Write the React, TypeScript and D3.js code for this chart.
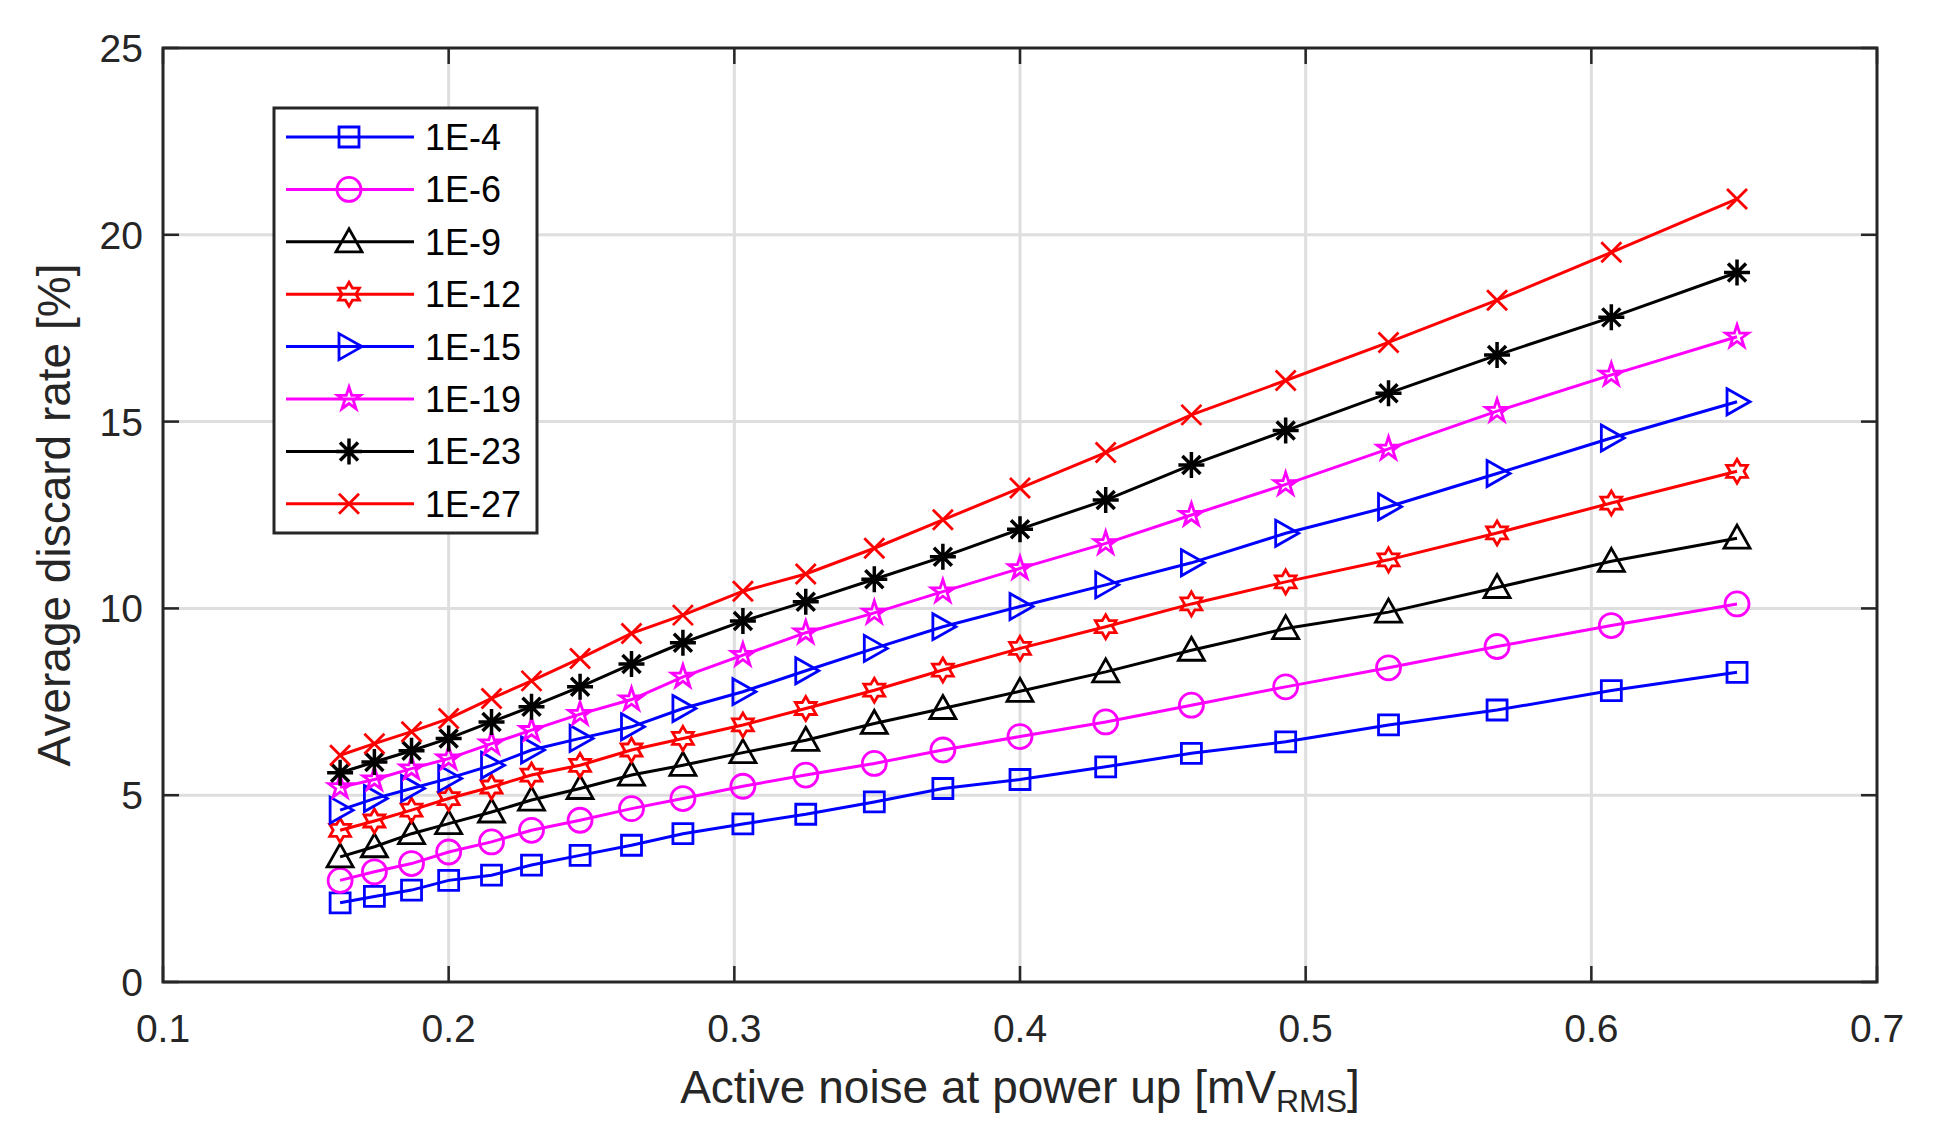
import React from 'react';
import * as d3 from 'd3';

// noise level at power up [mV RMS], same for every curve
const noiseX = [0.162, 0.174, 0.187, 0.200, 0.215, 0.229, 0.246, 0.264, 0.282, 0.303, 0.325, 0.349, 0.373, 0.400, 0.430, 0.460, 0.493, 0.529, 0.567, 0.607, 0.651];

// average discard rate [%] for each target error rate
const rate1E4 = [2.12, 2.29, 2.46, 2.72, 2.86, 3.13, 3.39, 3.66, 3.97, 4.23, 4.49, 4.82, 5.18, 5.42, 5.76, 6.12, 6.43, 6.88, 7.28, 7.80, 8.29];
const rate1E6 = [2.72, 2.95, 3.17, 3.48, 3.75, 4.06, 4.33, 4.64, 4.91, 5.24, 5.54, 5.85, 6.21, 6.57, 6.96, 7.41, 7.90, 8.41, 8.98, 9.54, 10.12];
const rate1E9 = [3.35, 3.62, 3.97, 4.24, 4.55, 4.87, 5.18, 5.54, 5.80, 6.14, 6.47, 6.92, 7.32, 7.78, 8.30, 8.88, 9.46, 9.90, 10.56, 11.26, 11.88];
const rate1E12 = [4.06, 4.31, 4.60, 4.91, 5.22, 5.54, 5.80, 6.21, 6.52, 6.88, 7.32, 7.81, 8.35, 8.93, 9.51, 10.12, 10.71, 11.30, 12.02, 12.82, 13.67];
const rate1E15 = [4.60, 4.91, 5.18, 5.45, 5.80, 6.21, 6.52, 6.83, 7.32, 7.77, 8.33, 8.93, 9.51, 10.05, 10.63, 11.22, 12.01, 12.72, 13.61, 14.56, 15.53];
const rate1E19 = [5.21, 5.42, 5.71, 5.98, 6.38, 6.74, 7.17, 7.56, 8.17, 8.75, 9.35, 9.88, 10.45, 11.07, 11.74, 12.50, 13.32, 14.27, 15.28, 16.25, 17.27];
const rate1E23 = [5.60, 5.89, 6.19, 6.52, 6.96, 7.37, 7.90, 8.51, 9.08, 9.66, 10.18, 10.78, 11.38, 12.12, 12.90, 13.84, 14.76, 15.76, 16.78, 17.79, 18.99];
const rate1E27 = [6.07, 6.38, 6.70, 7.05, 7.59, 8.06, 8.66, 9.33, 9.82, 10.46, 10.92, 11.61, 12.37, 13.22, 14.17, 15.18, 16.10, 17.12, 18.25, 19.53, 20.96];

const seriesNames = ['1E-4', '1E-6', '1E-9', '1E-12', '1E-15', '1E-19', '1E-23', '1E-27'];
const seriesValues = [rate1E4, rate1E6, rate1E9, rate1E12, rate1E15, rate1E19, rate1E23, rate1E27];
const seriesColors = ['#0000ff', '#ff00ff', '#000000', '#ff0000', '#0000ff', '#ff00ff', '#000000', '#ff0000'];
const seriesMarkers = ['square', 'circle', 'triUp', 'hexagram', 'triRight', 'pentagram', 'asterisk', 'cross'];

const xTicks = [0.1, 0.2, 0.3, 0.4, 0.5, 0.6, 0.7];
const yTicks = [0, 5, 10, 15, 20, 25];

const W = 1960, H = 1122;
const left = 163, right = 1877, top = 48, bottom = 982;
const font = '"Liberation Sans", Arial, Helvetica, sans-serif';
const axisColor = '#262626';

// star outline helper (hexagram / pentagram)
function starPath(points, outer, inner) {
    const pts = [];
    for (let i = 0; i < points * 2; i++) {
        const r = i % 2 === 0 ? outer : inner;
        const a = -Math.PI / 2 + (i * Math.PI) / points;
        pts.push([r * Math.cos(a), r * Math.sin(a)]);
    }
    return 'M' + pts.map(p => p[0].toFixed(2) + ',' + p[1].toFixed(2)).join('L') + 'Z';
}

function markerPath(kind) {
    switch (kind) {
        case 'square': return 'M-10,-10H10V10H-10Z';
        case 'circle': return 'M12,0A12,12 0 1,1 -12,0A12,12 0 1,1 12,0Z';
        case 'triUp': return 'M0,-13L13,10L-13,10Z';
        case 'triRight': return 'M-10,-13L13,0L-10,13Z';
        case 'hexagram': return starPath(6, 12, 12 / Math.sqrt(3));
        case 'pentagram': return starPath(5, 12, 12 * 0.382);
        case 'asterisk': return 'M0,-13V13M-13,0H13M-9,-9L9,9M-9,9L9,-9';
        case 'cross': return 'M-10,-10L10,10M-10,10L10,-10';
        default: return '';
    }
}

const Marker = ({ kind, color, x, y }) => (
    <path d={markerPath(kind)} transform={`translate(${x},${y})`} fill="none" stroke={color}
        strokeWidth={kind === 'asterisk' ? 3.5 : 2.8} strokeLinejoin="miter" />
);

export default function App() {
    const x = d3.scaleLinear().domain([0.1, 0.7]).range([left, right]);
    const y = d3.scaleLinear().domain([0, 25]).range([bottom, top]);
    const line = d3.line().x(d => x(d[0])).y(d => y(d[1]));

    const legendX = 274, legendY = 108, legendW = 263, legendH = 425;
    const rowStep = 52.4;

    return (
        <svg width={W} height={H} style={{ position: 'absolute', left: 0, top: 0, display: 'block', background: '#fff' }}
            fontFamily={font}>
            <rect x={0} y={0} width={W} height={H} fill="#fff" />

            {/* grid */}
            {xTicks.slice(1, -1).map(t => (
                <line key={'gx' + t} x1={x(t)} x2={x(t)} y1={top} y2={bottom} stroke="#dedede" strokeWidth={3} />
            ))}
            {yTicks.slice(1, -1).map(t => (
                <line key={'gy' + t} x1={left} x2={right} y1={y(t)} y2={y(t)} stroke="#dedede" strokeWidth={3} />
            ))}

            {/* curves */}
            {seriesValues.map((vals, i) => (
                <g key={seriesNames[i]}>
                    <path d={line(noiseX.map((v, j) => [v, vals[j]]))} fill="none" stroke={seriesColors[i]} strokeWidth={3} />
                    {noiseX.map((v, j) => (
                        <Marker key={j} kind={seriesMarkers[i]} color={seriesColors[i]} x={x(v)} y={y(vals[j])} />
                    ))}
                </g>
            ))}

            {/* box + ticks */}
            <rect x={left} y={top} width={right - left} height={bottom - top} fill="none" stroke={axisColor} strokeWidth={3} />
            {xTicks.map(t => (
                <g key={'tx' + t}>
                    <line x1={x(t)} x2={x(t)} y1={bottom} y2={bottom - 16} stroke={axisColor} strokeWidth={2.5} />
                    <line x1={x(t)} x2={x(t)} y1={top} y2={top + 16} stroke={axisColor} strokeWidth={2.5} />
                    <text x={x(t)} y={1042} textAnchor="middle" fontSize={39} fill={axisColor}>{t}</text>
                </g>
            ))}
            {yTicks.map(t => (
                <g key={'ty' + t}>
                    <line x1={left} x2={left + 16} y1={y(t)} y2={y(t)} stroke={axisColor} strokeWidth={2.5} />
                    <line x1={right} x2={right - 16} y1={y(t)} y2={y(t)} stroke={axisColor} strokeWidth={2.5} />
                    <text x={143} y={y(t) + 14} textAnchor="end" fontSize={39} fill={axisColor}>{t}</text>
                </g>
            ))}

            {/* axis titles */}
            <text x={(left + right) / 2} y={1103} textAnchor="middle" fontSize={46} fill={axisColor}>
                Active noise at power up [mV
                <tspan fontSize={32} dy={9}>RMS</tspan>
                <tspan dy={-9}>]</tspan>
            </text>
            <text transform={`translate(70,${(top + bottom) / 2}) rotate(-90)`} textAnchor="middle" fontSize={46} fill={axisColor}>
                Average discard rate [%]
            </text>

            {/* legend */}
            <rect x={legendX} y={legendY} width={legendW} height={legendH} fill="#fff" stroke={axisColor} strokeWidth={3} />
            {seriesNames.map((name, i) => {
                const ry = legendY + 29 + i * rowStep;
                return (
                    <g key={'lg' + name}>
                        <line x1={286} x2={414} y1={ry} y2={ry} stroke={seriesColors[i]} strokeWidth={3} />
                        <Marker kind={seriesMarkers[i]} color={seriesColors[i]} x={349} y={ry} />
                        <text x={425} y={ry + 13} fontSize={36} fill="#000">{name}</text>
                    </g>
                );
            })}
        </svg>
    );
}
